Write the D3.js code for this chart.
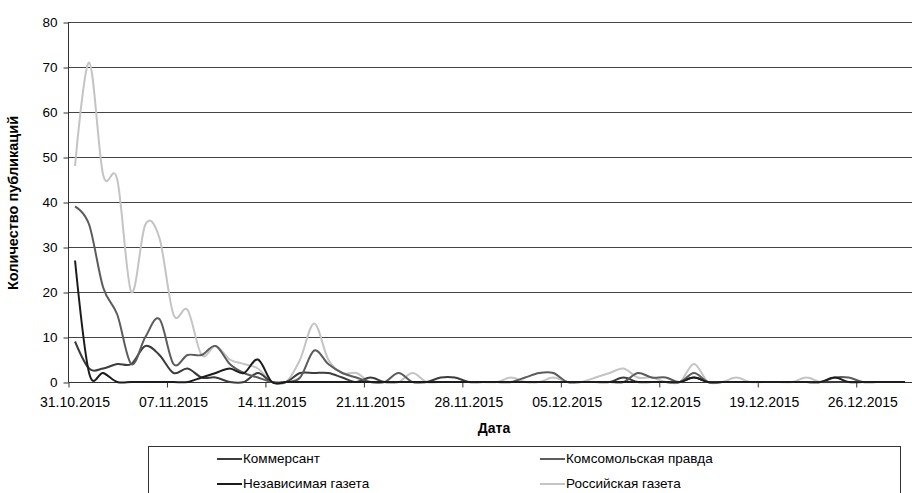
<!DOCTYPE html>
<html>
<head>
<meta charset="utf-8">
<title>Chart</title>
<script src="https://d3js.org/d3.v7.min.js"></script>
<style>
  body { margin: 0; background: #fff; }
  text { font-family: "Liberation Sans", Arial, sans-serif; fill: #000; }
</style>
</head>
<body>
<svg id="chart" width="912" height="493"></svg>
<script>
// data, one value per day starting 31.10.2015
var nDays = 60;
var tickLabels = ["31.10.2015", "07.11.2015", "14.11.2015", "21.11.2015", "28.11.2015",
                  "05.12.2015", "12.12.2015", "19.12.2015", "26.12.2015"];
var seriesNames = ["Коммерсант", "Комсомольская правда", "Независимая газета", "Российская газета"];
var kommersant = [9,3,3,4,4, 8,6,2,3,1, 1,0,0,2,0, 0,2,2,2,1, 0,1,0,0,0, 0,1,1,0,0,
                  0,0,0,0,0, 0,0,0,0,1, 0,0,0,0,1, 0,0,0,0,0, 0,0,0,0,0, 0,0,0,0,0];
var komsomolka = [39,35,21,15,4, 10,14,4,6,6, 8,4,2,1,0, 0,1,7,4,2, 1,0,0,2,0, 0,0,0,0,0,
                  0,0,1,2,2, 0,0,0,0,0, 2,1,1,0,2, 0,0,0,0,0, 0,0,0,0,1, 1,0,0,0,0];
var nezavisimaya = [27,2,2,0,0, 0,0,0,0,1, 2,3,2,5,0, 0,0,0,0,0, 0,0,0,0,0, 0,0,0,0,0,
                    0,0,0,0,0, 0,0,0,0,0, 0,0,0,0,1, 0,0,0,0,0, 0,0,0,0,1, 0,0,0,0,0];
var rossiyskaya = [48,71,46,45,20, 35,32,15,16,6, 8,5,4,3,0, 0,5,13,5,2, 2,0,0,0,2, 0,0,0,0,0,
                   0,1,0,0,1, 0,0,1,2,3, 1,1,0,0,4, 0,0,1,0,0, 0,0,1,0,0, 0,0,0,0,0];
var seriesValues = [kommersant, komsomolka, nezavisimaya, rossiyskaya];
var seriesColors = ["#3c3c3c", "#5c5c5c", "#1c1c1c", "#c4c4c4"];
var yTicks = [0, 10, 20, 30, 40, 50, 60, 70, 80];

var svg = d3.select("#chart");
var plotLeft = 68, plotRight = 912, plotTop = 22, plotBottom = 382;

var x = d3.scaleLinear().domain([0, nDays]).range([plotLeft, plotRight]);
var y = d3.scaleLinear().domain([0, 80]).range([plotBottom, plotTop]);

// grid
svg.append("g").selectAll("line")
  .data(yTicks.slice(1))
  .enter().append("line")
    .attr("x1", plotLeft).attr("x2", plotRight)
    .attr("y1", function (d) { return y(d) + 0.5 })
    .attr("y2", function (d) { return y(d) + 0.5 })
    .attr("stroke", "#444").attr("stroke-width", 1);

// y axis
var yAxis = d3.axisLeft(y).tickValues(yTicks).tickSize(5).tickPadding(6);
var gy = svg.append("g").attr("transform", "translate(" + (plotLeft + 0.5) + ",0.5)").call(yAxis);
gy.select(".domain").attr("stroke", "#333").attr("d", "M0," + plotTop + "V" + plotBottom);
gy.selectAll(".tick line").attr("stroke", "#333");
gy.selectAll(".tick text").style("font-size", "13.5px").style("font-family", "Liberation Sans, Arial");

// x axis
var xAxis = d3.axisBottom(x).tickValues(d3.range(0, nDays + 1, 7)).tickSize(5).tickFormat("");
var gx = svg.append("g").attr("transform", "translate(0.5," + (plotBottom + 0.5) + ")").call(xAxis);
gx.select(".domain").attr("stroke", "#333").attr("d", "M" + plotLeft + ",0H" + plotRight);
gx.selectAll(".tick line").attr("stroke", "#333");
svg.append("g").selectAll("text")
  .data(tickLabels)
  .enter().append("text")
    .attr("x", function (d, i) { return x(i * 7 + 0.5) })
    .attr("y", 407)
    .attr("text-anchor", "middle")
    .style("font-size", "14px")
    .text(function (d) { return d });

// lines (smoothed like the spreadsheet chart)
var line = d3.line()
  .x(function (d, i) { return x(i + 0.5) })
  .y(function (d) { return y(d) })
  .curve(d3.curveCardinal.tension(0));

var order = [3, 0, 1, 2];
order.forEach(function (k) {
  svg.append("path")
    .datum(seriesValues[k])
    .attr("d", line)
    .attr("fill", "none")
    .attr("stroke", seriesColors[k])
    .attr("stroke-width", 2);
});

// axis titles
svg.append("text")
  .attr("transform", "translate(18,203) rotate(-90)")
  .attr("text-anchor", "middle")
  .style("font-size", "14.5px").style("font-weight", "bold")
  .text("Количество публикаций");
svg.append("text")
  .attr("x", 494).attr("y", 433)
  .attr("text-anchor", "middle")
  .style("font-size", "14px").style("font-weight", "bold")
  .text("Дата");

// legend
var lg = svg.append("g");
lg.append("rect")
  .attr("x", 148.5).attr("y", 446.5).attr("width", 752).attr("height", 60)
  .attr("fill", "none").attr("stroke", "#333");
var legPos = [[217, 463], [540, 463], [217, 488], [540, 488]];
seriesNames.forEach(function (name, i) {
  var p = legPos[i];
  lg.append("line")
    .attr("x1", p[0]).attr("x2", p[0] + 25)
    .attr("y1", p[1] - 4).attr("y2", p[1] - 4)
    .attr("stroke", seriesColors[i]).attr("stroke-width", 2);
  lg.append("text")
    .attr("x", p[0] + 26).attr("y", p[1])
    .style("font-size", "13.5px")
    .text(name);
});
</script>
</body>
</html>
